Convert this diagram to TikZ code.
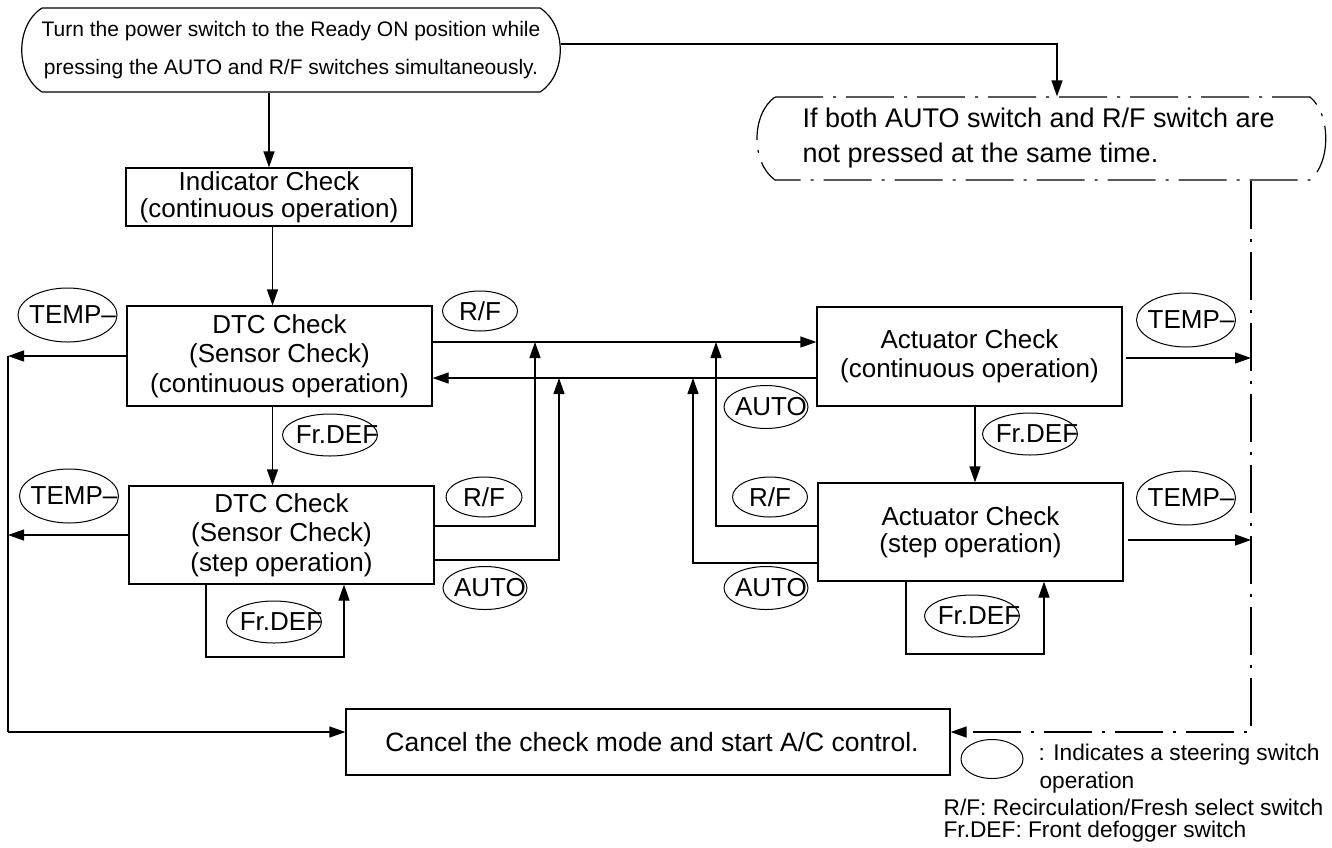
\documentclass[tikz,border=0pt]{standalone}
\usepackage{fontspec}
\setmainfont{Liberation Sans}
\usetikzlibrary{arrows.meta,shapes.geometric}
\begin{document}
\begin{tikzpicture}[x=1pt,y=-1pt,
  line width=1.2pt,
  arr/.style={-{Triangle[length=16pt,width=11pt]}},
  box/.style={draw, rectangle, inner sep=0pt, align=center, font=\fontsize{26}{29.5}\selectfont},
  sw/.style={draw, ellipse, inner sep=0pt, line width=1pt},
  swt/.style={inner sep=0pt, font=\fontsize{26}{30}\selectfont},
  dd/.style={dash pattern=on 48pt off 10pt on 3pt off 10pt},
  leg/.style={inner sep=0pt, anchor=west, font=\fontsize{22.7}{25}\selectfont},
]
\useasboundingbox (0,0) rectangle (1332,847);

% start node
\node[inner sep=0pt, align=center, minimum width=538pt, minimum height=84pt,
  font=\fontsize{21}{38}\selectfont] (start) at (291,50)
  {Turn the power switch to the Ready ON position while\\pressing the AUTO and R/F switches simultaneously.};
\draw (42,8) -- (540,8) .. controls (567,25) and (567,75) .. (540,92)
  -- (42,92) .. controls (15,75) and (15,25) .. (42,8);

% not-both node
\node[inner sep=0pt, minimum width=535pt, minimum height=83pt] (nb) at (1042.5,138.5) {};
\node[inner sep=0pt, anchor=west, align=left, font=\fontsize{27}{35}\selectfont] (nbt) at (802,138)
  {If both AUTO switch and R/F switch are\\not pressed at the same time.};
\draw[dd] (775,97) -- (1310,97) .. controls (1331,114) and (1331,163) .. (1310,180)
  -- (775,180) .. controls (751,163) and (751,114) .. (775,97);

% boxes
\node[box, minimum width=286pt, minimum height=58pt, font=\fontsize{26}{27}\selectfont] (ind) at (269,197)
  {Indicator Check\\(continuous operation)};
\node[box, minimum width=305pt, minimum height=100pt] (d1) at (279.5,356)
  {DTC Check\\(Sensor Check)\\(continuous operation)};
\node[box, minimum width=305pt, minimum height=98pt] (d2) at (281.5,535)
  {DTC Check\\(Sensor Check)\\(step operation)};
\node[box, minimum width=305pt, minimum height=99pt, font=\fontsize{26}{29}\selectfont] (a1) at (969.5,356.5)
  {Actuator Check\\(continuous operation)};
\node[box, minimum width=305pt, minimum height=98pt, font=\fontsize{26}{27}\selectfont] (a2) at (970.5,532)
  {Actuator Check\\(step operation)};
\node[box, minimum width=604pt, minimum height=66pt, font=\fontsize{26.5}{30}\selectfont] (cancel) at (648,742)
  {\hspace*{8pt}Cancel the check mode and start A/C control.};

% coordinates
\coordinate (tr) at (1057,44);
\coordinate (xa) at (272.5,0);
\coordinate (xb) at (975,0);
\coordinate (yr) at (0,342);
\coordinate (yl) at (0,378);
\coordinate (v1) at (535,526);
\coordinate (v2) at (559,560);
\coordinate (v3) at (716,526);
\coordinate (v4) at (693,563);
\coordinate (L) at (8,732);
\coordinate (R) at (1251,732);
\coordinate (ya1) at (0,358);
\coordinate (ya2) at (0,540);
\coordinate (lp1) at (206,657);
\coordinate (lp2) at (344,657);
\coordinate (lp3) at (906,654);
\coordinate (lp4) at (1044,654);

% connectors
\draw[arr] (start.east |- tr) -- (tr) -- (tr |- nb.north);
\draw[arr] (ind.north |- start.south) -- (ind.north);
\draw[arr] (xa |- ind.south) -- (xa |- d1.north);
\draw[arr] (xa |- d1.south) -- (xa |- d2.north);
\draw[arr] (xb |- a1.south) -- (xb |- a2.north);

\draw[arr] (d1.east |- yr) -- (a1.west |- yr);
\draw[arr] (a1.west |- yl) -- (d1.east |- yl);
\draw[arr] (d2.east |- v1) -- (v1) -- (v1 |- yr);
\draw[arr] (d2.east |- v2) -- (v2) -- (v2 |- yl);
\draw[arr] (a2.west |- v3) -- (v3) -- (v3 |- yr);
\draw[arr] (a2.west |- v4) -- (v4) -- (v4 |- yl);

\draw[arr] (d1.west) -- (d1.west -| L);
\draw[arr] (d2.west) -- (d2.west -| L);
\draw (L |- d1.west) -- (L);
\draw[arr] (L) -- (cancel.west |- L);

\draw[arr] ([xshift=3pt]a1.east |- ya1) -- (R |- ya1);
\draw[arr] ([xshift=4pt]a2.east |- ya2) -- (R |- ya2);
\draw[dd,arr] (nb.south -| R) -- (R) -- (cancel.east |- R);

\draw[arr] (lp1 |- d2.south) -- (lp1) -- (lp2) -- (lp2 |- d2.south);
\draw[arr] (lp3 |- a2.south) -- (lp3) -- (lp4) -- (lp4 |- a2.south);

% switch ellipses
\node[sw, minimum width=99pt, minimum height=54pt] (t1) at (67.5,315) {};
\node[swt] at ([xshift=5pt]t1.center) {TEMP–};
\node[sw, minimum width=99pt, minimum height=54pt] (t2) at (69,496) {};
\node[swt] at ([xshift=5pt]t2.center) {TEMP–};
\node[sw, minimum width=99pt, minimum height=54pt] (t3) at (1186,320) {};
\node[swt] at ([xshift=5pt]t3.center) {TEMP–};
\node[sw, minimum width=99pt, minimum height=54pt] (t4) at (1186,498) {};
\node[swt] at ([xshift=5pt]t4.center) {TEMP–};

\node[sw, minimum width=75pt, minimum height=40pt] (r1) at (480,311) {};
\node[swt] at (r1.center) {R/F};
\node[sw, minimum width=76pt, minimum height=40pt] (r2) at (484,497) {};
\node[swt] at (r2.center) {R/F};
\node[sw, minimum width=75pt, minimum height=40pt] (r3) at (770,497) {};
\node[swt] at (r3.center) {R/F};

\node[sw, minimum width=84pt, minimum height=43pt] (u1) at (766,407) {};
\node[swt] at ([xshift=5pt]u1.center) {AUTO};
\node[sw, minimum width=84pt, minimum height=43pt] (u2) at (485,588) {};
\node[swt] at ([xshift=5pt]u2.center) {AUTO};
\node[sw, minimum width=84pt, minimum height=43pt] (u3) at (766,588) {};
\node[swt] at ([xshift=5pt]u3.center) {AUTO};

\node[sw, minimum width=95pt, minimum height=42pt] (f1) at (330,435) {};
\node[swt] at ([xshift=7pt]f1.center) {Fr.DEF};
\node[sw, minimum width=95pt, minimum height=42pt] (f2) at (274,622) {};
\node[swt] at ([xshift=7pt]f2.center) {Fr.DEF};
\node[sw, minimum width=95pt, minimum height=42pt] (f3) at (1030,434) {};
\node[swt] at ([xshift=7pt]f3.center) {Fr.DEF};
\node[sw, minimum width=95pt, minimum height=42pt] (f4) at (972,616) {};
\node[swt] at ([xshift=7pt]f4.center) {Fr.DEF};

% legend
\node[sw, minimum width=62pt, minimum height=39pt] (lg) at (992,759) {};
\node[leg] (lg1) at (1038,755) {: Indicates a steering switch};
\node[leg] (lg2) at (1039,783) {operation};
\node[leg] (lg3) at (943,807) {R/F: Recirculation/Fresh select switch};
\node[leg] (lg4) at (943,832) {Fr.DEF: Front defogger switch};
\end{tikzpicture}
\end{document}
